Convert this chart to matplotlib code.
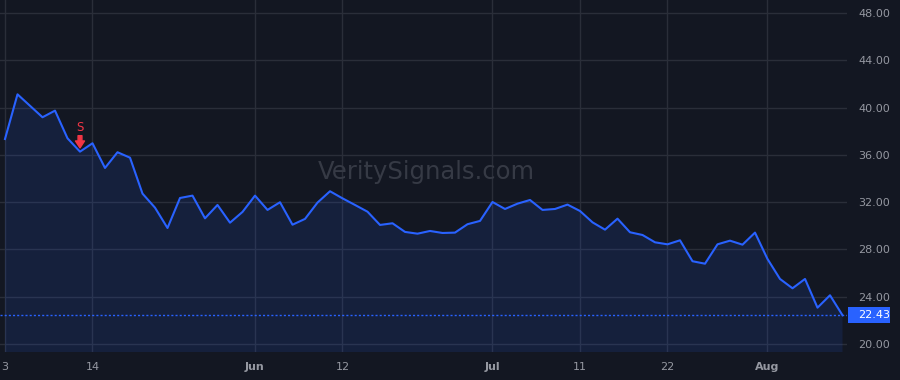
import matplotlib
matplotlib.use('Agg')
import matplotlib.pyplot as plt
import matplotlib.transforms as mtransforms
from matplotlib.patches import Rectangle
import numpy as np

# Daily closes, May 3 - Aug 9 (trading days)
closes = [37.34, 41.12, 40.15, 39.18, 39.74, 37.40, 36.27, 36.98, 34.89, 36.22,
          35.76, 32.72, 31.53, 29.81, 32.35, 32.55, 30.63, 31.76, 30.26, 31.17,
          32.55, 31.34, 31.99, 30.09, 30.58, 31.96, 32.92, 32.32, 31.76, 31.19,
          30.07, 30.21, 29.48, 29.33, 29.56, 29.39, 29.42, 30.13, 30.41, 32.01,
          31.42, 31.87, 32.18, 31.34, 31.42, 31.79, 31.25, 30.29, 29.67, 30.60,
          29.45, 29.22, 28.60, 28.43, 28.77, 27.00, 26.79, 28.43, 28.74, 28.40,
          29.42, 27.19, 25.50, 24.71, 25.50, 23.07, 24.12, 22.43]
last_price = 22.43

# x tick labels (trading-day index -> label)
tick_idx = [0, 7, 20, 27, 39, 46, 53, 61]
tick_labels = ['3', '14', 'Jun', '12', 'Jul', '11', '22', 'Aug']
month_labels = ['Jun', 'Jul', 'Aug']

y_ticks = [20, 24, 28, 32, 36, 40, 44, 48]

# sell signal
signal_idx = 6
signal_text = 'S'

bg = '#131722'
grid_c = '#2a2e39'
text_c = '#9598a1'
line_c = '#2962ff'
red = '#f23645'

x = np.arange(len(closes))

fig = plt.figure(figsize=(9, 3.8), dpi=100, facecolor=bg)
ax = fig.add_axes([0, 28 / 380, 847 / 900, 352 / 380])
ax.set_facecolor(bg)

ax.plot(x, closes, color=line_c, lw=1.5, zorder=3)
ax.fill_between(x, closes, 0, color=line_c, alpha=0.12, lw=0, zorder=2)

ax.set_xlim(-0.4, 67.36)
ax.set_ylim(19.32, 49.1)

# last price line and label
ax.axhline(last_price, color=line_c, lw=1, ls=(0, (1.5, 1.5)), zorder=2)
trans = mtransforms.blended_transform_factory(ax.transAxes, ax.transData)
ax.add_patch(Rectangle((1.001, last_price - 0.68), 42 / 847, 1.36, transform=trans,
                       facecolor=line_c, edgecolor='none', clip_on=False, zorder=5))
ax.annotate(f'{last_price:.2f}', xy=(1, last_price), xycoords=('axes fraction', 'data'),
            xytext=(7.8, 0), textcoords='offset points', ha='left', va='center',
            color='white', fontsize=8, annotation_clip=False, zorder=6)

# sell marker
sv = closes[signal_idx]
ax.annotate('', xy=(signal_idx, sv), xytext=(0, 11.5), textcoords='offset points',
            arrowprops=dict(arrowstyle='simple,head_length=0.5,head_width=0.65,tail_width=0.28',
                            fc=red, ec=red, shrinkA=0, shrinkB=2.7))
ax.annotate(signal_text, xy=(signal_idx, sv), xytext=(0, 17.5), textcoords='offset points',
            ha='center', va='center', color=red, fontsize=8.5)

# watermark
ax.text(0.503, 0.51, 'VeritySignals.com', transform=ax.transAxes, ha='center', va='center',
        fontsize=17.5, color='#363a45', zorder=1)

ax.set_xticks(tick_idx)
ax.set_xticklabels(tick_labels)
for lbl in ax.get_xticklabels():
    if lbl.get_text() in month_labels:
        lbl.set_fontweight('bold')
ax.set_yticks(y_ticks)
ax.set_yticklabels([f'{v:.2f}' for v in y_ticks])
ax.yaxis.tick_right()
ax.tick_params(axis='y', length=0, pad=8, labelsize=8, colors=text_c)
ax.tick_params(axis='x', length=0, pad=7, labelsize=8, colors=text_c)
ax.grid(True, color=grid_c, lw=1)
ax.set_axisbelow(True)
for s in ax.spines.values():
    s.set_visible(False)

fig.savefig('out.png', dpi=100, facecolor=bg)
